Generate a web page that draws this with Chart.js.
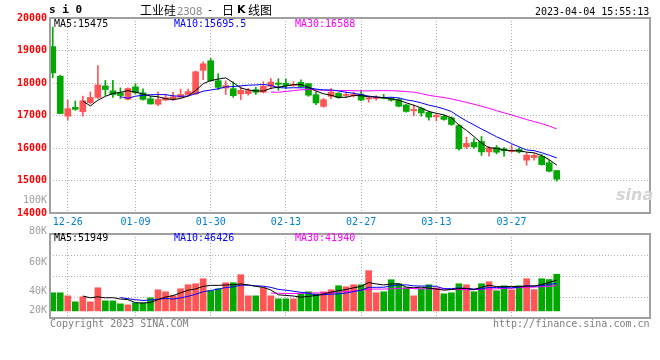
<!DOCTYPE html>
<html>
<head>
<meta charset="utf-8">
<script src="https://cdn.jsdelivr.net/npm/chart.js@4.4.0/dist/chart.umd.min.js"></script>
<style>
  body { margin: 0; background: #fff; }
  #wrap { position: relative; width: 660px; height: 360px; overflow: hidden; font-family: 'DejaVu Sans Mono', monospace; font-size: 10px; }
  canvas { position: absolute; left: 0; }
  .t { position: absolute; white-space: pre; line-height: 12px; }
  .r { text-align: right; color: #a0a0a0; }
  .cjk { font-family: 'Noto Sans CJK SC'; font-size: 12px; line-height: 16px; top: 2px; }
</style>
</head>
<body>
<div id="wrap">
  <canvas id="kChart" width="660" height="232" style="top:0"></canvas>
  <canvas id="volChart" width="660" height="100" style="top:226px"></canvas>

  <div class="t" style="left:49px;top:4px;font-weight:bold;font-size:11px">s i 0</div>
  <div class="t cjk" style="left:140px">工业硅</div>
  <div class="t" style="left:177px;top:4px;color:#888;font-family:'Noto Sans';font-size:11px;line-height:14px">2308</div>
  <div class="t" style="left:207px;top:4px">-</div>
  <div class="t cjk" style="left:222px">日</div>
  <div class="t" style="left:237px;top:3px;font-family:'DejaVu Sans';font-weight:bold;font-size:11px;line-height:14px">K</div>
  <div class="t cjk" style="left:248px">线图</div>
  <div class="t" style="left:535px;top:6px">2023-04-04 15:55:13</div>

  <div class="t" style="left:54px;top:18px;color:#000">MA5:15475</div>
  <div class="t" style="left:174px;top:18px;color:#0000ff">MA10:15695.5</div>
  <div class="t" style="left:295px;top:18px;color:#ff00ff">MA30:16588</div>

  <div class="t" style="left:54px;top:232px;color:#000">MA5:51949</div>
  <div class="t" style="left:174px;top:232px;color:#0000ff">MA10:46426</div>
  <div class="t" style="left:295px;top:232px;color:#ff00ff">MA30:41940</div>

  <div id="volLabels"></div>

  <div class="t" style="left:616px;top:186px;font-family:'DejaVu Sans';font-style:italic;font-weight:bold;font-size:16px;line-height:18px;color:#d4d4d4">sina</div>

  <div class="t" style="left:50px;top:318px;color:#808080">Copyright 2023 SINA.COM</div>
  <div class="t" style="left:493px;top:318px;color:#808080">http://finance.sina.com.cn</div>
</div>
<script>
const dates = ['12-26', '01-09', '01-30', '02-13', '02-27', '03-13', '03-27'];
const dateIdx = [2, 11, 21, 31, 41, 51, 61];

const opens = [19120, 18210, 16980, 17250, 17120, 17395, 17555, 17910, 17760, 17690,
  17500, 17880, 17700, 17515, 17345, 17475, 17495, 17560, 17645, 17665,
  18390, 18685, 18070, 17845, 17825, 17665, 17675, 17795, 17715, 17900,
  18000, 17990, 17920, 18020, 17980, 17640, 17280, 17590, 17685, 17615,
  17610, 17660, 17510, 17520, 17555, 17540, 17490, 17325, 17145, 17215,
  17095, 16960, 16970, 16930, 16690, 16035, 16170, 16200, 15880, 16015,
  15975, 15890, 15955, 15625, 15705, 15750, 15545, 15305];
const highs = [19720, 18240, 17475, 17445, 17595, 17725, 18535, 18080, 18080, 17850,
  17850, 17980, 17820, 17595, 17725, 17655, 17715, 17815, 17815, 18370,
  18655, 18755, 18285, 18070, 18030, 17880, 17835, 17865, 18040, 18135,
  18135, 18120, 18040, 18100, 17980, 17730, 17525, 17827, 17705, 17720,
  17725, 17785, 17590, 17610, 17650, 17560, 17530, 17345, 17320, 17255,
  17135, 17055, 17010, 16960, 16725, 16335, 16290, 16355, 16055, 16075,
  16015, 16085, 16005, 15850, 15820, 15800, 15625, 15305];
const lows = [18160, 17060, 16860, 17160, 16980, 17355, 17525, 17615, 17555, 17525,
  17480, 17655, 17475, 17355, 17305, 17455, 17455, 17540, 17625, 17645,
  18100, 18050, 17795, 17645, 17560, 17490, 17625, 17645, 17695, 17815,
  17775, 17825, 17900, 17865, 17590, 17335, 17255, 17520, 17530, 17560,
  17570, 17460, 17410, 17470, 17510, 17440, 17265, 17100, 16990, 16980,
  16860, 16830, 16855, 16700, 15935, 15985, 15985, 15770, 15750, 15820,
  15750, 15870, 15850, 15470, 15625, 15470, 15265, 14980];
const closes = [18310, 17060, 17210, 17190, 17455, 17555, 17940, 17800, 17645, 17615,
  17830, 17700, 17495, 17355, 17495, 17545, 17575, 17645, 17735, 18345,
  18590, 18070, 17865, 17920, 17610, 17775, 17765, 17715, 17900, 18030,
  17960, 17920, 17950, 17890, 17625, 17385, 17490, 17725, 17555, 17650,
  17650, 17475, 17540, 17540, 17525, 17470, 17285, 17125, 17185, 17080,
  16950, 17000, 16880, 16725, 15975, 16140, 16035, 15880, 16005, 15870,
  15915, 15915, 15880, 15780, 15770, 15490, 15285, 15040];
const volumes = [30600, 30600, 25500, 15300, 23800, 15300, 39100, 17000, 17000, 11900,
  10200, 13600, 13600, 22100, 35700, 32300, 25500, 37400, 44200, 45900,
  54400, 34000, 37400, 47600, 47600, 61200, 25500, 25500, 39100, 25500,
  20400, 20400, 20400, 28900, 32300, 28900, 32300, 35700, 42500, 40800,
  44200, 44200, 68000, 30600, 32300, 52700, 45900, 39100, 25500, 37400,
  44200, 39100, 28900, 30600, 45900, 44200, 32300, 45900, 49300, 34000,
  42500, 35700, 42500, 54400, 36000, 54400, 53000, 62000];

const volLabels = [['100K', 194], ['80K', 225], ['60K', 256], ['40K', 285], ['20K', 304]];

const UP = '#ff5555', DOWN = '#00a800';
const GRID = '#b0b0b0';
const MONO = 'DejaVu Sans Mono';
const colors = closes.map((c, i) => c >= opens[i] ? UP : DOWN);

function movingAvg(src, len) {
  const out = [];
  for (let i = len - 1; i < src.length; i++) {
    let s = 0;
    for (let j = i - len + 1; j <= i; j++) s += src[j];
    out.push({x: i, y: s / len});
  }
  return out;
}

const panelBox = {
  id: 'panelBox',
  afterDraw(chart) {
    const {ctx, chartArea: a} = chart;
    ctx.save();
    ctx.strokeStyle = '#a0a0a0';
    ctx.lineWidth = 2;
    ctx.strokeRect(a.left, a.top, a.right - a.left, a.bottom - a.top);
    ctx.restore();
  }
};

function xScale(showLabels, h) {
  return {
    type: 'linear', min: -0.36, max: 79.4, offset: false,
    afterBuildTicks: s => { s.ticks = dateIdx.map(v => ({value: v})); },
    afterFit: s => { s.height = h; },
    ticks: {
      display: showLabels, autoSkip: false, maxRotation: 0, padding: 3,
      color: '#0080d0', font: {family: MONO, size: 10},
      callback: (v, i) => dates[i]
    },
    grid: {color: GRID, drawTicks: false, offset: false, borderDash: [1, 2]},
    border: {display: false, dash: [1, 2]}
  };
}

function maLine(data, color) {
  return {type: 'line', data, borderColor: color, borderWidth: 1, pointRadius: 0, fill: false, tension: 0, order: 0};
}

document.getElementById('volLabels').innerHTML = volLabels
  .map(([t, top]) => `<div class="t r" style="right:613px;top:${top}px">${t}</div>`).join('');

new Chart(document.getElementById('kChart'), {
  type: 'bar',
  data: {
    datasets: [
      {
        data: closes.map((c, i) => ({x: i, y: [lows[i], highs[i]]})),
        backgroundColor: colors, barThickness: 1, grouped: false, minBarLength: 1, order: 2
      },
      {
        data: closes.map((c, i) => ({x: i, y: [opens[i], c]})),
        backgroundColor: colors, barThickness: 6, grouped: false, minBarLength: 1, order: 1
      },
      maLine(movingAvg(closes, 5), '#000000'),
      maLine(movingAvg(closes, 10), '#0000ff'),
      maLine(movingAvg(closes, 30), '#ff00ff')
    ]
  },
  options: {
    responsive: false, animation: false,
    layout: {padding: {top: 18, right: 10, left: 0, bottom: 0}},
    plugins: {legend: {display: false}, tooltip: {enabled: false}},
    scales: {
      x: xScale(true, 19),
      y: {
        min: 14000, max: 20000,
        afterFit: s => { s.width = 50; },
        ticks: {stepSize: 1000, color: '#ff0000', padding: 3, font: {family: MONO, size: 10, weight: 'bold'},
          callback: v => String(v)},
        grid: {color: GRID, drawTicks: false, borderDash: [1, 2]},
        border: {display: false, dash: [1, 2]}
      }
    }
  },
  plugins: [panelBox]
});

new Chart(document.getElementById('volChart'), {
  type: 'bar',
  data: {
    datasets: [
      {
        data: volumes.map((v, i) => ({x: i, y: v})),
        backgroundColor: colors, barThickness: 6, grouped: false, order: 1
      },
      maLine(movingAvg(volumes, 5), '#000000'),
      maLine(movingAvg(volumes, 10), '#0000ff'),
      maLine(movingAvg(volumes, 30), '#ff00ff')
    ]
  },
  options: {
    responsive: false, animation: false,
    layout: {padding: {top: 8, right: 10, left: 0, bottom: 0}},
    plugins: {legend: {display: false}, tooltip: {enabled: false}},
    scales: {
      x: xScale(false, 8),
      y: {
        min: -12000, max: 130000,
        afterBuildTicks: s => {
          const step = (s.max - s.min) / 4;
          s.ticks = [0, 1, 2, 3, 4].map(k => ({value: s.min + k * step}));
        },
        afterFit: s => { s.width = 50; },
        ticks: {display: false},
        grid: {color: GRID, drawTicks: false, borderDash: [1, 2]},
        border: {display: false, dash: [1, 2]}
      }
    }
  },
  plugins: [panelBox]
});
</script>
</body>
</html>
